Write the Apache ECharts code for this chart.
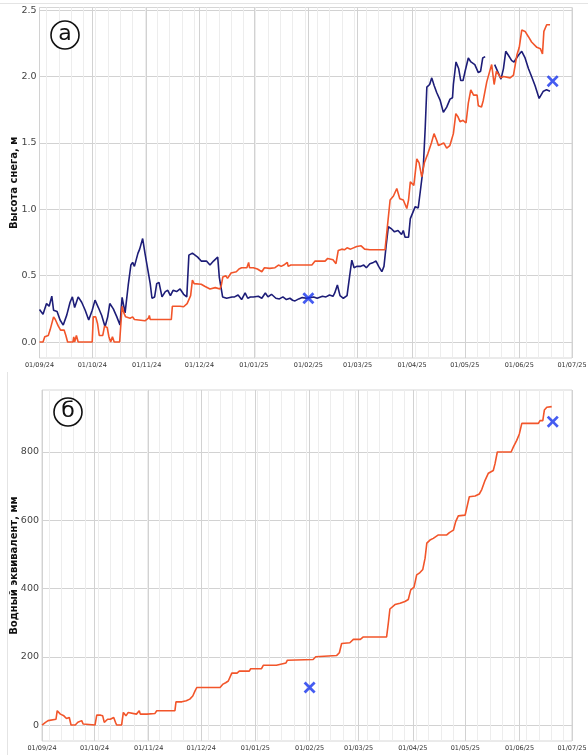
<!DOCTYPE html>
<html>
<head>
<meta charset="utf-8">
<script src="https://cdn.jsdelivr.net/npm/echarts@6/dist/echarts.min.js"></script>
<style>
html,body{margin:0;padding:0;background:#fff;}
#chart{width:588px;height:755px;}
</style>
</head>
<body>
<div id="chart"></div>
<script>
// ---- data (days since 2024-09-01) ----
const modelDays = [0,2,3,5,6,8,9,10.7,12,14,15,16,19,19.5,20,21,22,30,30.6,32,33,34,36,37,38.5,39.5,40.5,41.5,42.5,45.6,47,48,49,51.5,53,54,60,62,62.5,63,75,75.6,80,82,84,85,86,87,88,92,94,97,100,102.7,103.5,104.3,106,107,109,112,113.5,115,118,119,119.5,121.7,124,126.5,128,131,134,136,137.5,139,141,141.5,143,148,152,155,156.8,162.5,164,167,168.7,170,172,173.5,175,177,180.5,183,185,188,192,196.6,197.5,199.5,201.4,203.3,205,207,209,210,211,213,214.7,216,217.5,219,221,223,224.5,226,227,230,231.7,233.5,235.5,236.9,238,239.3,241,242.7,244,245.4,247,249,249.7,251.5,252.5,254.5,256.4,257.3,258.7,260,261,262.5,264,267.8,269.7,271.6,273,274.4,276.3,278.2,280,283,285,286.2,287,288.6,290.5];
const modelDepth = [0,0,0.04,0.05,0.09,0.19,0.17,0.12,0.09,0.09,0.05,0,0,0.04,0,0.05,0,0,0.19,0.19,0.14,0.05,0.05,0.12,0.11,0.04,0,0.04,0,0,0.27,0.22,0.19,0.18,0.19,0.17,0.16,0.18,0.2,0.17,0.17,0.27,0.27,0.266,0.29,0.32,0.35,0.467,0.44,0.435,0.42,0.40,0.41,0.40,0.43,0.49,0.50,0.48,0.52,0.53,0.55,0.56,0.56,0.60,0.56,0.56,0.55,0.53,0.56,0.555,0.56,0.58,0.57,0.58,0.60,0.57,0.58,0.58,0.58,0.58,0.61,0.61,0.63,0.62,0.59,0.69,0.70,0.695,0.71,0.70,0.72,0.725,0.70,0.695,0.695,0.695,0.705,1.07,1.10,1.157,1.08,1.07,1.006,1.07,1.207,1.18,1.38,1.35,1.245,1.35,1.42,1.50,1.57,1.52,1.48,1.50,1.46,1.48,1.57,1.72,1.70,1.66,1.67,1.65,1.80,1.90,1.86,1.86,1.78,1.77,1.82,1.96,2.05,2.09,1.94,2.04,2.04,1.99,2.0,1.99,2.01,2.16,2.22,2.35,2.34,2.30,2.26,2.22,2.21,2.17,2.34,2.39,2.39];

const obsDays = [0,2,4,5.5,7,8,10,11.7,13.5,15.5,17.4,18.7,20,22,24,26,28,30,31.6,33.5,35.4,37.3,38.8,40,42,44,45.8,47,48.7,50.5,52,53,54,56,57,58.7,60,61,63,64,65.5,66.7,68,69.7,71.6,73,74.5,76,78,80,82,83.8,85,87,90,92,95,97,99,101.4,102.3,104.2,106.5,107.5,109.5,111,113,115,117,118.5,120,121.7,124.5,126.5,128.5,130,132,134.5,136.5,138.5,140.5,142.5,144,145.4,147.5,149.5,152,154,156,158,161,163,165,167,168,169.5,171,172.9,175,176.3,177.7,179,180.5,182.5,184.5,186,188,190,191.5,193,194.8,196,197.2,198.5,200.5,202,204,206,207,208,210,211,212,213.8,215.5,217,218.4,219.5,220.4,222,223.2,224.6,226,228,229.8,230.8,231.7,233.6,235,235.5,237,238.5,239.7,241,242,244,245.5,247.7,249.7,251,252.2,253.6,256,259,260.8,262.6,264,265.3,266.8,268.7,270,272.5,274.4,276.3,278.2,280,282,284.3,286.7,288.5,290.5];
const obsDepth = [0.246,0.21,0.29,0.27,0.346,0.24,0.23,0.166,0.128,0.203,0.30,0.34,0.26,0.34,0.30,0.24,0.166,0.24,0.316,0.26,0.20,0.115,0.19,0.29,0.25,0.19,0.128,0.337,0.22,0.43,0.58,0.60,0.57,0.668,0.70,0.78,0.67,0.66,0.44,0.33,0.34,0.44,0.45,0.34,0.38,0.39,0.35,0.39,0.38,0.40,0.36,0.34,0.655,0.67,0.64,0.61,0.61,0.58,0.61,0.64,0.49,0.34,0.33,0.32,0.34,0.34,0.355,0.32,0.37,0.33,0.34,0.34,0.345,0.33,0.37,0.34,0.36,0.33,0.325,0.34,0.32,0.33,0.315,0.31,0.325,0.335,0.33,0.335,0.34,0.33,0.345,0.34,0.355,0.345,0.37,0.43,0.35,0.33,0.35,0.48,0.617,0.56,0.57,0.57,0.58,0.56,0.59,0.60,0.61,0.57,0.53,0.57,0.72,0.87,0.85,0.83,0.84,0.81,0.84,0.79,0.79,0.93,0.92,1.02,1.01,1.17,1.32,1.62,1.92,1.94,1.99,1.93,1.88,1.82,1.73,1.72,1.77,1.83,1.84,1.94,2.11,2.06,1.97,1.97,2.03,2.14,2.11,2.09,2.03,2.04,2.14,2.15,null,2.09,2.035,1.98,2.06,2.19,2.16,2.12,2.11,2.16,2.19,2.14,2.06,2.00,1.93,1.835,1.89,1.90,1.89];

const sweDays = [0,1,2,3.5,8,8.7,9.5,10.5,12.5,14,15.6,16.6,19,20.5,21.5,22.7,23.5,24.5,30.3,31.3,33.5,34.7,35.6,36.6,37.5,39,39.8,41,42,42.7,45.5,46.5,48,49.3,50.3,54,55.6,56.2,60,64.6,65.6,76,76.6,80,82.5,84.5,86.2,87.5,88.5,101.8,103.5,105,106.5,108.5,111.5,112.8,118.5,119.3,125.5,126.5,134,135,139.5,140.3,155,156.5,168.5,170,171.3,176,178,182,183.7,197,198,198.9,201.8,204.7,207.5,209.4,210.8,212.7,214.2,215.7,217.7,219,220,221.8,223.7,226.6,231.4,232.9,235.2,236.5,238,241.9,242.8,244.3,247.6,250,251.4,253.3,255.2,258,259,260.3,268.2,269.5,271.4,272.9,274.3,283.8,284.7,286.3,287.2,288.6,291.4];
const sweValues = [0,1,8,13,17,42,38,32,27,19,22,0,0,8,3,13,3,0,0,29,29,27,8,3,17,17,22,22,8,0,0,37,27,37,32,32,42,32,32,34,42,42,68,68,71,76,85,100,110,110,120,124,129,152,152,158,158,165,165,175,175,180,182,190,192,200,204,212,239,241,251,251,258,258,299,340,353,357,362,368,396,404,440,445,456,489,533,542,547,557,557,564,571,596,613,615,620,669,671,677,690,717,738,746,766,800,800,815,834,853,884,884,892,892,923,931,933];

// survey points: [days since 2024-09-01, value]
const surveyDepthDays = [153, 292];
const surveyDepth = [0.33, 1.965];
const surveySweDays = [153, 292];
const surveySwe = [110, 889];

const depthTicks = [0, 0.5, 1.0, 1.5, 2.0, 2.5];
const sweTicks = [0, 200, 400, 600, 800];

// ---- helpers ----
const DAY = 86400000;
const START = Date.UTC(2024, 8, 1);
const END = Date.UTC(2025, 6, 1);
const toT = d => START + d * DAY;
const pair = (days, vals) => days.map((d, i) => [toT(d), vals[i] === null ? '-' : vals[i]]);

const monthTicks = [];
for (let i = 0; i <= 10; i++) monthTicks.push(Date.UTC(2024, 8 + i, 1));
const weekTicks = [];
for (let t = Date.UTC(2024, 8, 5); t < END; t += 7 * DAY) weekTicks.push(t);

const fmtDate = v => {
  const d = new Date(v);
  const p = n => String(n).padStart(2, '0');
  return p(d.getUTCDate()) + '/' + p(d.getUTCMonth() + 1) + '/' + p(d.getUTCFullYear() % 100);
};

const ORANGE = '#f2552a';
const NAVY = '#1d1d78';
const BLUE = '#1633ee';
const MAJOR = '#d2d2d2';
const MINOR = '#ededed';
const XSYM = 'path://M0,1.6L1.6,0L5,3.4L8.4,0L10,1.6L6.6,5L10,8.4L8.4,10L5,6.6L1.6,10L0,8.4L3.4,5Z';

function majorX(gi) {
  return {
    type: 'value', gridIndex: gi, min: START, max: END, z: 1,
    axisLine: { show: false },
    axisTick: { show: false, customValues: monthTicks },
    axisLabel: { customValues: monthTicks, formatter: fmtDate, fontSize: 6.5, color: '#333',
                 fontFamily: 'DejaVu Sans', margin: 4, hideOverlap: false },
    splitLine: { show: true, lineStyle: { color: MAJOR, width: 1 } }
  };
}
function minorX(gi) {
  return {
    type: 'value', gridIndex: gi, min: START, max: END, z: 0,
    axisLine: { show: false },
    axisTick: { show: false, customValues: weekTicks },
    axisLabel: { show: false, customValues: weekTicks },
    splitLine: { show: true, lineStyle: { color: MINOR, width: 1 } }
  };
}

const option = {
  animation: false,
  backgroundColor: '#fff',
  grid: [
    { left: 39.5, right: 16, top: 7.5, height: 350.5, show: true, borderColor: '#d6d6d6', borderWidth: 1,
      outerBoundsMode: 'none', containLabel: false },
    { left: 42, right: 16, top: 390, height: 351, show: true, borderColor: '#d6d6d6', borderWidth: 1,
      outerBoundsMode: 'none', containLabel: false }
  ],
  xAxis: [majorX(0), minorX(0), majorX(1), minorX(1)],
  yAxis: [
    {
      type: 'value', gridIndex: 0, min: -0.12, max: 2.52,
      name: 'Высота снега, м', nameLocation: 'middle', nameGap: 20, nameMoveOverlap: false,
      nameTextStyle: { fontSize: 10, fontWeight: 'bold', color: '#111', fontFamily: 'DejaVu Sans' },
      axisLine: { show: false },
      axisTick: { show: false, customValues: depthTicks },
      axisLabel: { customValues: depthTicks, formatter: v => v.toFixed(1), fontSize: 9.5, color: '#444',
                   fontFamily: 'DejaVu Sans', margin: 3 },
      splitLine: { show: true, lineStyle: { color: MAJOR } }
    },
    {
      type: 'value', gridIndex: 1, min: -46.75, max: 981.75,
      name: 'Водный эквивалент, мм', nameLocation: 'middle', nameGap: 23, nameMoveOverlap: false,
      nameTextStyle: { fontSize: 10, fontWeight: 'bold', color: '#111', fontFamily: 'DejaVu Sans' },
      axisLine: { show: false },
      axisTick: { show: false, customValues: sweTicks },
      axisLabel: { customValues: sweTicks, fontSize: 9.5, color: '#444', fontFamily: 'DejaVu Sans', margin: 3 },
      splitLine: { show: true, lineStyle: { color: MAJOR } }
    }
  ],
  series: [
    { type: 'line', xAxisIndex: 0, yAxisIndex: 0, data: pair(obsDays, obsDepth), showSymbol: false,
      connectNulls: false, lineStyle: { color: NAVY, width: 1.6 }, itemStyle: { color: NAVY }, z: 3 },
    { type: 'line', xAxisIndex: 0, yAxisIndex: 0, data: pair(modelDays, modelDepth), showSymbol: false,
      lineStyle: { color: ORANGE, width: 1.6 }, itemStyle: { color: ORANGE }, z: 4 },
    { type: 'scatter', xAxisIndex: 0, yAxisIndex: 0, data: pair(surveyDepthDays, surveyDepth),
      symbol: XSYM, symbolSize: 12, itemStyle: { color: BLUE }, z: 5 },
    { type: 'line', xAxisIndex: 2, yAxisIndex: 1, data: pair(sweDays, sweValues), showSymbol: false,
      lineStyle: { color: ORANGE, width: 1.6 }, itemStyle: { color: ORANGE }, z: 4 },
    { type: 'scatter', xAxisIndex: 2, yAxisIndex: 1, data: pair(surveySweDays, surveySwe),
      symbol: XSYM, symbolSize: 12, itemStyle: { color: BLUE }, z: 5 }
  ],
  graphic: [
    { type: 'line', shape: { x1: 0, y1: 3.5, x2: 588, y2: 3.5 }, style: { stroke: '#e4e4e4', lineWidth: 1 } },
    { type: 'line', shape: { x1: 7.5, y1: 372, x2: 7.5, y2: 755 }, style: { stroke: '#e4e4e4', lineWidth: 1 } },
    { type: 'circle', shape: { cx: 65, cy: 35, r: 14 }, style: { fill: '#fff', stroke: '#111', lineWidth: 1.6 }, z: 10 },
    { type: 'text', x: 65, y: 34, style: { text: 'а', font: '22px "DejaVu Sans"', fill: '#111', align: 'center', verticalAlign: 'middle' }, z: 11 },
    { type: 'circle', shape: { cx: 68, cy: 412, r: 14 }, style: { fill: '#fff', stroke: '#111', lineWidth: 1.6 }, z: 10 },
    { type: 'text', x: 68, y: 411, style: { text: 'б', font: '22px "DejaVu Sans"', fill: '#111', align: 'center', verticalAlign: 'middle' }, z: 11 }
  ]
};

const chart = echarts.init(document.getElementById('chart'), null, { renderer: 'canvas' });
chart.setOption(option);
</script>
</body>
</html>
